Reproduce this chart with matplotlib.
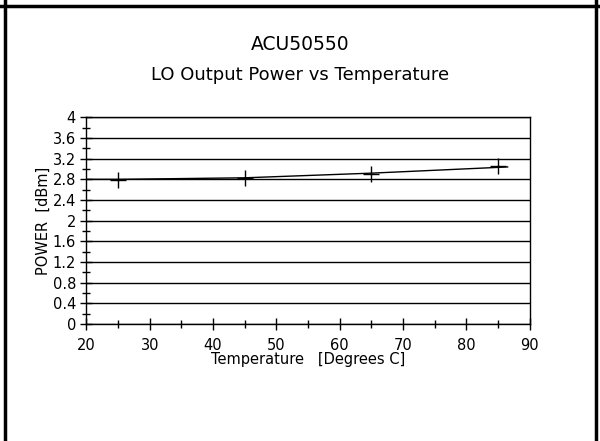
import matplotlib.pyplot as plt
from matplotlib.lines import Line2D
from matplotlib.ticker import MultipleLocator

# Puntos medidos (marcadores +)
tempMedida = [25, 45, 65, 85]
potenciaMedida = [2.79, 2.82, 2.91, 3.05]

# Curva trazada
tempCurva = [20, 25, 45, 65, 86.5]
potenciaCurva = [2.80, 2.80, 2.83, 2.92, 3.04]

yTicks = [0, 0.4, 0.8, 1.2, 1.6, 2, 2.4, 2.8, 3.2, 3.6, 4]
xTicks = [20, 30, 40, 50, 60, 70, 80, 90]

fig = plt.figure(figsize=(6, 4.41), dpi=100)
ax = fig.add_axes([0.144, 0.265, 0.739, 0.469])

ax.plot(tempCurva, potenciaCurva, color='black', lw=1.0)
ax.plot(tempMedida, potenciaMedida, ls='none', marker='+', ms=12,
        mew=1.0, color='black')

ax.set_xlim(20, 90)
ax.set_ylim(0, 4)
ax.set_xticks(xTicks)
ax.set_yticks(yTicks)
ax.set_yticklabels(['0', '0.4', '0.8', '1.2', '1.6', '2', '2.4', '2.8', '3.2', '3.6', '4'])
ax.xaxis.set_minor_locator(MultipleLocator(5))
ax.yaxis.set_minor_locator(MultipleLocator(0.2))
ax.tick_params(which='both', direction='inout', color='black', labelsize=10.5)
ax.tick_params(which='major', length=8, width=1)
ax.tick_params(which='minor', length=6, width=1)
ax.tick_params(axis='x', pad=6)
ax.grid(True, axis='y', color='black', lw=1.0)
for s in ax.spines.values():
    s.set_linewidth(1.0)

ax.set_xlabel('Temperature   [Degrees C]', fontsize=10.5, labelpad=-1)
ax.set_ylabel('POWER  [dBm]', fontsize=10.5, labelpad=1)

fig.text(0.5, 0.898, 'ACU50550', ha='center', va='center', fontsize=13.5)
fig.text(0.5, 0.830, 'LO Output Power vs Temperature', ha='center', va='center',
         fontsize=13)

# Marco de la figura
fig.add_artist(Line2D([0, 1], [0.986, 0.986], color='black', lw=2.5,
                      transform=fig.transFigure))
fig.add_artist(Line2D([0.0075, 0.0075], [0, 0.999], color='black', lw=2.5,
                      transform=fig.transFigure))
fig.add_artist(Line2D([0.9925, 0.9925], [0, 0.999], color='black', lw=2.5,
                      transform=fig.transFigure))

fig.savefig('out.png', dpi=100)
